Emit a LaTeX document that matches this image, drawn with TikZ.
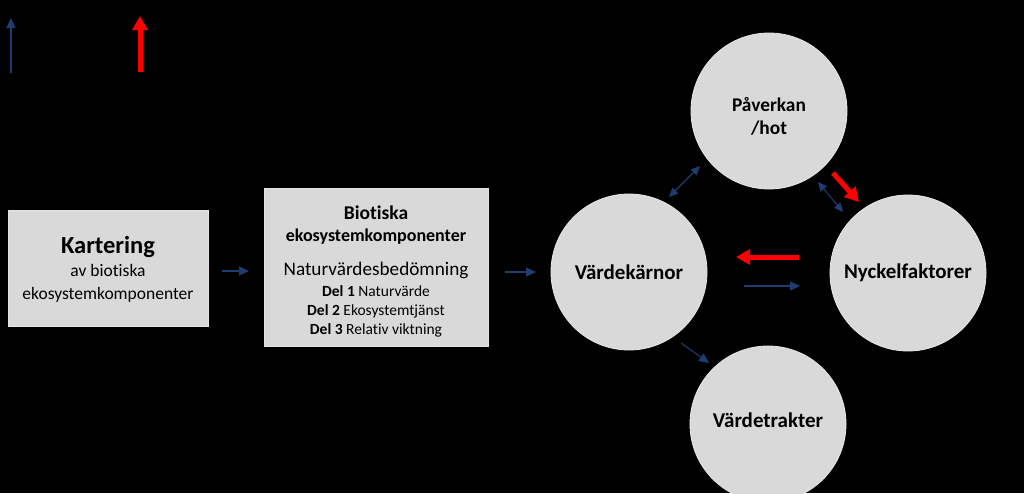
\documentclass[tikz,border=0pt]{standalone}
\usepackage{fontspec}
\setmainfont{Carlito}[Ligatures=NoCommon]
\usetikzlibrary{arrows.meta}
\definecolor{boxgray}{HTML}{D9D9D9}
\definecolor{navy}{HTML}{203D72}
\definecolor{arrred}{HTML}{FF0000}
\tikzset{
  procbox/.style={draw=boxgray!70!white, line width=0.8pt, fill=boxgray, inner sep=0pt, align=center, text=black},
  bubble/.style={circle, draw=boxgray!60!white, line width=0.8pt, fill=boxgray, minimum size=156pt, inner sep=0pt, align=center, text=black, font=\fontsize{21}{24}\selectfont\bfseries},
  thinarrow/.style={navy, line width=1.1pt, -{Triangle[length=10pt,width=9pt]}},
  dblarrow/.style={navy, line width=1.1pt, {Triangle[length=9pt,width=8pt]}-{Triangle[length=9pt,width=8pt]}},
  redarrow/.style={arrred, line width=5pt, -{Triangle[length=14pt,width=15pt]}}
}
\begin{document}
\begin{tikzpicture}[x=1pt,y=-1pt]
\fill[black] (0,0) rectangle (1024,493);
\useasboundingbox (0,0) rectangle (1024,493);
% legend
\coordinate (lb1) at (11,73);
\coordinate (lb2) at (11,18);
\draw[thinarrow] (lb1) -- (lb2);
\coordinate (lr1) at (140,72);
\coordinate (lr2) at (140,16);
\draw[redarrow] (lr1) -- (lr2);
% boxes
\node[procbox, minimum width=200pt, minimum height=116pt] (kart) at (108,268) {};
\node[font=\fontsize{24.5}{27}\selectfont\bfseries] (kartT) at (108,247) {Kartering};
\node[font=\fontsize{17.5}{23}\selectfont, align=center] (kartS) at (108,283) {av biotiska\\ekosystemkomponenter};
\node[procbox, minimum width=224pt, minimum height=158pt] (biot) at (376,267) {};
\node[font=\fontsize{19.5}{24}\selectfont\bfseries] (biotT1) at (376,213) {Biotiska};
\node[font=\fontsize{18}{24}\selectfont\bfseries] (biotT2) at (376,237) {ekosystemkomponenter};
\node[font=\fontsize{19.2}{22}\selectfont] (natur) at (376,270) {Naturvärdesbedömning};
\node[font=\fontsize{15.5}{19}\selectfont, align=center] (dels) at (376,311) {\textbf{Del 1} Naturvärde\\\textbf{Del 2} Ekosystemtjänst\\\textbf{Del 3} Relativ viktning};
% circles
\node[bubble] (vk) at (629,272) {Värdekärnor};
\node[bubble] (pa) at (769,111) {};
\node[font=\fontsize{19.4}{23}\selectfont\bfseries, align=center] (paT) at (769,116) {Påverkan\\/hot};
\node[bubble] (ny) at (908,273) {Nyckelfaktorer};
\node[bubble] (vt) at (768,424) {};
\node[font=\fontsize{21}{24}\selectfont\bfseries] (vtT) at (768,420) {Värdetrakter};
% arrows
\coordinate (a1s) at (222,271); \coordinate (a1e) at (249,271);
\draw[thinarrow] (a1s) -- (a1e);
\coordinate (a2s) at (505,272); \coordinate (a2e) at (536,272);
\draw[thinarrow] (a2s) -- (a2e);
\coordinate (d1s) at (669,197); \coordinate (d1e) at (700,166);
\draw[dblarrow] (d1s) -- (d1e);
\coordinate (d2s) at (818,182); \coordinate (d2e) at (843,212);
\draw[dblarrow] (d2s) -- (d2e);
\coordinate (r1s) at (833,173); \coordinate (r1e) at (859,202);
\draw[redarrow] (r1s) -- (r1e);
\coordinate (r2s) at (799,257); \coordinate (r2e) at (736,257);
\draw[redarrow] (r2s) -- (r2e);
\coordinate (n1s) at (744,286); \coordinate (n1e) at (800,286);
\draw[thinarrow] (n1s) -- (n1e);
\coordinate (n2s) at (681,343); \coordinate (n2e) at (709,363);
\draw[thinarrow] (n2s) -- (n2e);
\end{tikzpicture}
\end{document}
